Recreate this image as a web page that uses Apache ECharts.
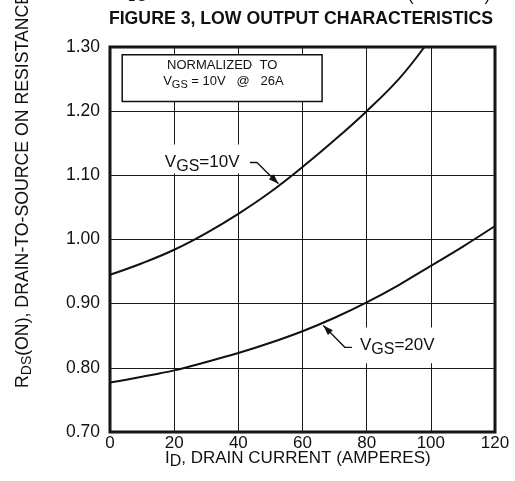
<!DOCTYPE html>
<html><head><meta charset="utf-8">
<script src="https://cdn.jsdelivr.net/npm/echarts@6/dist/echarts.min.js"></script>
<style>html,body{margin:0;padding:0;background:#fff}#c{width:515px;height:481px}</style>
</head><body><div id="c"></div>
<script>
var current = [0, 10, 20, 30, 40, 50, 60, 70, 80, 90, 98];
var rdsVgs10 = [0.945, 0.963, 0.984, 1.010, 1.040, 1.074, 1.113, 1.155, 1.200, 1.250, 1.300];
var current20 = [0, 10, 20, 30, 40, 50, 60, 70, 80, 90, 100, 110, 120];
var rdsVgs20 = [0.777, 0.786, 0.796, 0.809, 0.823, 0.839, 0.857, 0.878, 0.902, 0.929, 0.959, 0.989, 1.021];
var xTicks = [0, 20, 40, 60, 80, 100, 120];
var yTicks = [0.70, 0.80, 0.90, 1.00, 1.10, 1.20, 1.30];

var FONT = 'Liberation Sans, Arial, sans-serif';
var chart = echarts.init(document.getElementById('c'), null, {renderer: 'canvas'});
function pairs(xs, ys) { return xs.map(function (x, i) { return [x, ys[i]]; }); }

chart.setOption({
  animation: false,
  backgroundColor: '#fff',
  grid: {left: 110, top: 47, right: 20, bottom: 49, show: true, borderColor: '#111', borderWidth: 3, backgroundColor: 'transparent'},
  xAxis: {
    type: 'value', min: xTicks[0], max: xTicks[xTicks.length - 1], interval: 20,
    axisLine: {show: false}, axisTick: {show: false},
    axisLabel: {color: '#111', fontFamily: FONT, fontSize: 17, margin: 3},
    splitLine: {show: true, lineStyle: {color: '#1a1a1a', width: 1}}
  },
  yAxis: {
    type: 'value', min: yTicks[0], max: yTicks[yTicks.length - 1], interval: 0.1,
    axisLine: {show: false}, axisTick: {show: false},
    axisLabel: {color: '#111', fontFamily: FONT, fontSize: 17.5, margin: 10, formatter: function (v) { return v.toFixed(2); }},
    splitLine: {show: true, lineStyle: {color: '#1a1a1a', width: 1}}
  },
  series: [
    {type: 'line', data: pairs(current, rdsVgs10), smooth: 0.4, symbol: 'none', lineStyle: {color: '#111', width: 2}, z: 5},
    {type: 'line', data: pairs(current20, rdsVgs20), smooth: 0.4, symbol: 'none', lineStyle: {color: '#111', width: 2}, z: 5}
  ]
});

function P(x, y) { return chart.convertToPixel({gridIndex: 0}, [x, y]); }
function arrow(tip, from) {
  var dx = tip[0] - from[0], dy = tip[1] - from[1], L = Math.sqrt(dx * dx + dy * dy);
  var ux = dx / L, uy = dy / L, len = 10, w = 3.5;
  var bx = tip[0] - ux * len, by = tip[1] - uy * len;
  return {type: 'polygon', z: 101, shape: {points: [tip, [bx - uy * w, by + ux * w], [bx + uy * w, by - ux * w]]}, style: {fill: '#111'}};
}
var subRich = {sub: {fontSize: 16, fontFamily: FONT, fill: '#111', padding: [8, 0, 0, 0]}, base: {fontSize: 17, fontFamily: FONT, fill: '#111'}};
var axisRich = {sub: {fontSize: 14, fontFamily: FONT, fill: '#111', padding: [8, 0, 0, 0]}, base: {fontSize: 17.7, fontFamily: FONT, fill: '#111'}};

// annotation anchors (data coords)
var a10Text = P(17.1, 1.120), a10L0 = P(43.6, 1.120), a10L1 = P(45.8, 1.120), a10Tip = P(52.5, 1.087);
var a20Text = P(77.9, 0.835), a20L0 = P(75.4, 0.832), a20L1 = P(73.2, 0.832), a20Tip = P(66.5, 0.866);
var boxTL = P(3.8, 1.288), boxBR = P(66.1, 1.215);
var wb10a = P(13.9, 1.148), wb10b = P(46.0, 1.103);
var wb20a = P(71.3, 0.863), wb20b = P(104.0, 0.807);

chart.setOption({
  graphic: [
    {type: 'rect', z: 99, shape: {x: wb10a[0], y: wb10a[1], width: wb10b[0] - wb10a[0], height: wb10b[1] - wb10a[1]}, style: {fill: '#fff'}},
    {type: 'rect', z: 99, shape: {x: wb20a[0], y: wb20a[1], width: wb20b[0] - wb20a[0], height: wb20b[1] - wb20a[1]}, style: {fill: '#fff'}},
    {type: 'rect', z: 100, shape: {x: boxTL[0], y: boxTL[1], width: boxBR[0] - boxTL[0], height: boxBR[1] - boxTL[1]}, style: {fill: '#fff', stroke: '#111', lineWidth: 1.5}},
    {type: 'text', z: 101, x: (boxTL[0] + boxBR[0]) / 2, y: boxTL[1] + 11, style: {text: 'NORMALIZED  TO', font: '13px ' + FONT, fill: '#111', textAlign: 'center', textVerticalAlign: 'middle'}},
    {type: 'text', z: 101, x: boxTL[0] + 41, y: boxTL[1] + 27, style: {text: 'V{s|GS} = 10V   @   26A', font: '13px ' + FONT, fill: '#111', textAlign: 'left', textVerticalAlign: 'middle', rich: {s: {fontSize: 11, fontFamily: FONT, fill: '#111', padding: [7, 0, 0, 0]}}}},
    {type: 'text', z: 101, x: a10Text[0], y: a10Text[1], style: {text: '{base|V}{sub|GS}{base|=10V}', rich: subRich, textAlign: 'left', textVerticalAlign: 'middle'}},
    {type: 'polyline', z: 101, shape: {points: [a10L0, a10L1, a10Tip]}, style: {stroke: '#111', lineWidth: 1.3, fill: null}},
    arrow(a10Tip, a10L1),
    {type: 'text', z: 101, x: a20Text[0], y: a20Text[1], style: {text: '{base|V}{sub|GS}{base|=20V}', rich: subRich, textAlign: 'left', textVerticalAlign: 'middle'}},
    {type: 'polyline', z: 101, shape: {points: [a20L0, a20L1, a20Tip]}, style: {stroke: '#111', lineWidth: 1.3, fill: null}},
    arrow(a20Tip, a20L1),
    {type: 'text', z: 101, x: 301, y: 19, style: {text: 'FIGURE 3, LOW OUTPUT CHARACTERISTICS', font: 'bold 17.7px ' + FONT, fill: '#111', textAlign: 'center', textVerticalAlign: 'middle'}},
    {type: 'text', z: 101, x: 128, y: -9, style: {text: 'DS', font: '13px ' + FONT, fill: '#111', textAlign: 'left', textVerticalAlign: 'top'}},
    {type: 'text', z: 101, x: 408, y: -12, style: {text: '(               )', font: '17px ' + FONT, fill: '#111', textAlign: 'left', textVerticalAlign: 'top'}},
    {type: 'text', z: 101, x: 165, y: 458, style: {text: '{base|I}{sub|D}{base|, DRAIN CURRENT (AMPERES)}', rich: subRich, textAlign: 'left', textVerticalAlign: 'middle'}},
    {type: 'text', z: 101, x: 23, y: 388, rotation: Math.PI / 2, style: {text: '{base|R}{sub|DS}{base|(ON), DRAIN-TO-SOURCE ON RESISTANCE}', rich: axisRich, textAlign: 'left', textVerticalAlign: 'middle'}}
  ]
});
</script></body></html>
